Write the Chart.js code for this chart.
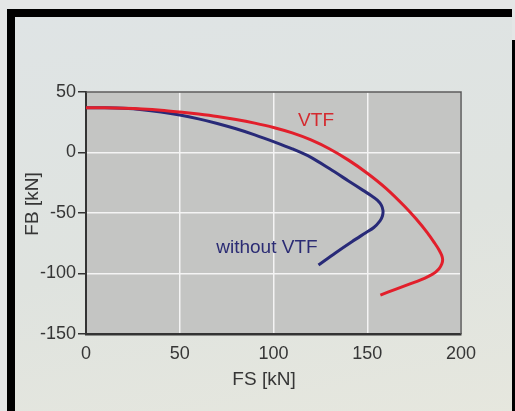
<!DOCTYPE html>
<html>
<head>
<meta charset="utf-8">
<script src="https://cdn.jsdelivr.net/npm/chart.js@4.4.0/dist/chart.umd.min.js"></script>
<style>
  html, body { margin: 0; padding: 0; }
  body { width: 515px; height: 411px; background: #e4e6e6; overflow: hidden; position: relative; }
  #frame {
    position: absolute; left: 7px; top: 9px; width: 497px; height: 402px;
    border-top: 8px solid #000; border-left: 8px solid #000;
    background: linear-gradient(170deg, #dfe4e5 0%, #dfe3df 55%, #e6e7de 100%);
  }
  #edge { position: absolute; left: 512px; top: 40px; width: 3px; height: 371px; background: #000; }
  #wrap { position: absolute; left: 0; top: 0; width: 515px; height: 411px; }
</style>
</head>
<body>
<div id="frame"></div>
<div id="edge"></div>
<div id="wrap"><canvas id="vtfChart" width="515" height="411"></canvas></div>
<script>
// FS [kN] / FB [kN] curves
var fsVtf = [0, 10, 20, 30, 40, 50, 60, 70, 80, 90, 100, 110, 120, 130, 140, 150, 160, 170, 176, 182, 186, 188.3, 189.7, 190.2, 189.8, 188.3, 185, 180.5, 172.8, 165, 157];
var fbVtf = [37, 36.9, 36.6, 36, 35, 33.5, 31.8, 29.8, 27.3, 24.3, 20.7, 16.2, 10.4, 2.9, -6.3, -17.1, -29.6, -44.6, -54.8, -66.2, -75, -80.5, -85, -88.5, -92, -96, -100.5, -104, -108.6, -113.1, -117.8];

var fsWithout = [0, 10, 20, 30, 40, 50, 60, 70, 80, 90, 100, 110, 120, 130, 140, 148, 152, 155.5, 157.5, 158.4, 158.1, 156.8, 153.5, 149, 142, 133, 124];
var fbWithout = [37, 36.9, 36.5, 35.4, 33.5, 31, 27.8, 24, 19.6, 14.6, 9, 3, -4, -13.5, -23.5, -31.5, -35.5, -39.5, -43.5, -48, -52.5, -56.5, -62, -66.5, -73.5, -83, -93];

var xTicks = [0, 50, 100, 150, 200];
var yTicks = [-150, -100, -50, 0, 50];

function toPoints(xs, ys) {
  return xs.map(function(x, i) { return { x: x, y: ys[i] }; });
}

var textColor = '#363636';
var tickFont = { family: 'Liberation Sans, Arial, sans-serif', size: 18 };

// plot background, frame, curve labels and axis titles
var decor = {
  id: 'decor',
  beforeDraw: function(chart) {
    var a = chart.chartArea, ctx = chart.ctx;
    ctx.save();
    ctx.fillStyle = '#c4c5c3';
    ctx.fillRect(a.left, a.top, a.right - a.left, a.bottom - a.top);
    ctx.restore();
  },
  beforeDatasetsDraw: function(chart) {
    var a = chart.chartArea, ctx = chart.ctx;
    ctx.save();
    ctx.strokeStyle = '#555';
    ctx.lineWidth = 1.5;
    ctx.beginPath();
    ctx.moveTo(a.left, a.top);
    ctx.lineTo(a.right, a.top);
    ctx.lineTo(a.right, a.bottom);
    ctx.stroke();
    ctx.restore();
  },
  afterDraw: function(chart) {
    var ctx = chart.ctx, x = chart.scales.x, y = chart.scales.y;
    ctx.save();
    ctx.font = '19px Liberation Sans, Arial, sans-serif';
    ctx.textAlign = 'center';
    ctx.textBaseline = 'middle';
    ctx.fillStyle = '#d42a2f';
    ctx.fillText('VTF', x.getPixelForValue(122.7), y.getPixelForValue(26.4));
    ctx.fillStyle = '#2b2c74';
    ctx.fillText('without VTF', x.getPixelForValue(96.5), y.getPixelForValue(-78.5));
    ctx.fillStyle = textColor;
    ctx.fillText('FS [kN]', 264, 380);
    ctx.translate(33, 204);
    ctx.rotate(-Math.PI / 2);
    ctx.fillText('FB [kN]', 0, 0);
    ctx.restore();
  }
};

var chart = new Chart(document.getElementById('vtfChart'), {
  type: 'scatter',
  data: {
    datasets: [{
      label: 'VTF',
      data: toPoints(fsVtf, fbVtf),
      showLine: true,
      borderColor: '#e21f2b',
      borderWidth: 3,
      pointRadius: 0,
      tension: 0.3
    }, {
      label: 'without VTF',
      data: toPoints(fsWithout, fbWithout),
      showLine: true,
      borderColor: '#282a78',
      borderWidth: 3,
      pointRadius: 0,
      tension: 0.3
    }]
  },
  options: {
    responsive: false,
    animation: false,
    layout: { padding: { left: 0, top: 92, right: 54, bottom: 0 } },
    plugins: { legend: { display: false }, tooltip: { enabled: false } },
    scales: {
      x: {
        min: 0, max: 200,
        afterFit: function(s) { s.height = 77; },
        afterBuildTicks: function(s) { s.ticks = xTicks.map(function(v) { return { value: v }; }); },
        grid: { color: '#f4f4f4', lineWidth: 1.5, tickLength: 8, tickColor: 'rgba(0,0,0,0)' },
        border: { color: '#333', width: 2.5 },
        ticks: { color: textColor, font: tickFont, padding: 1, maxRotation: 0 }
      },
      y: {
        min: -150, max: 50,
        afterFit: function(s) { s.width = 86; },
        afterBuildTicks: function(s) { s.ticks = yTicks.map(function(v) { return { value: v }; }); },
        grid: { color: '#f4f4f4', lineWidth: 1.5, tickLength: 8, tickColor: '#333' },
        border: { color: '#333', width: 2 },
        ticks: { color: textColor, font: tickFont, padding: 2 }
      }
    }
  },
  plugins: [decor]
});
</script>
</body>
</html>
